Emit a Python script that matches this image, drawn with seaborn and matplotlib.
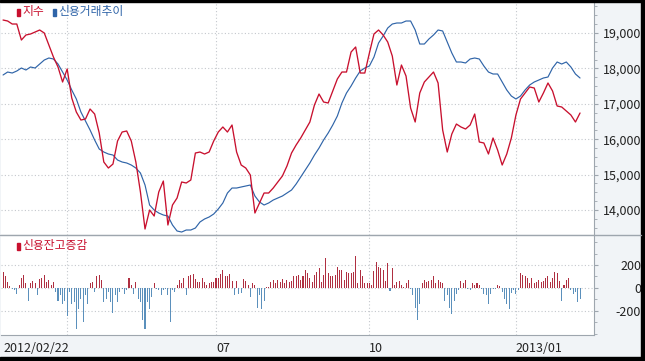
import numpy as np
import matplotlib
matplotlib.use("Agg")
import matplotlib.pyplot as plt
import seaborn as sns
from matplotlib.patches import Rectangle
from matplotlib.lines import Line2D

# 지수 (every 2nd trading day)
kospi = [19367, 19339, 19254, 19254, 18802, 18944, 18972, 19028, 19085, 19000,
         18661, 18322, 18040, 17616, 17983, 17164, 16768, 16542, 16571, 16853,
         16712, 16175, 15356, 15186, 15299, 15949, 16203, 16232, 15949, 15356,
         14508, 13463, 14000, 13830, 14508, 14819, 13576, 14141, 14339, 14791,
         14763, 14847, 15610, 15638, 15582, 15638, 15949, 16203, 16345, 16203,
         16401, 15638, 15271, 15186, 14989, 13915, 14198, 14480, 14480, 14621,
         14791, 14960, 15243, 15610, 15836, 16034, 16260, 16486, 16966, 17277,
         17051, 17023, 17362, 17701, 17898, 17898, 18463, 18605, 17870, 17870,
         18435, 18972, 19085, 18944, 18746, 18350, 17531, 18096, 17785, 16881,
         16486, 17305, 17616, 17757, 17898, 17588, 16260, 15638, 16147, 16429,
         16345, 16288, 16401, 16712, 15921, 15893, 15582, 16034, 15695, 15271,
         15582, 16034, 16684, 17136, 17305, 17475, 17446, 17051, 17305, 17588,
         17362, 16938, 16910, 16797, 16684, 16486, 16740]

# 신용거래추이 (every 2nd trading day)
credit = [17814, 17898, 17870, 17927, 18011, 17955, 18040, 18011, 18124, 18237,
          18294, 18266, 18124, 17898, 17672, 17390, 17136, 16768, 16514, 16260,
          15978, 15723, 15638, 15582, 15553, 15412, 15356, 15328, 15271, 15186,
          15045, 14706, 14141, 14000, 13915, 13859, 13830, 13576, 13407, 13378,
          13435, 13435, 13491, 13661, 13746, 13802, 13887, 14028, 14198, 14480,
          14621, 14621, 14650, 14678, 14706, 14395, 14226, 14141, 14198, 14282,
          14339, 14395, 14480, 14565, 14734, 14932, 15130, 15328, 15553, 15751,
          15978, 16175, 16401, 16655, 17023, 17305, 17503, 17729, 17927, 18011,
          18068, 18322, 18718, 18915, 19141, 19254, 19283, 19283, 19339, 19339,
          19085, 18689, 18689, 18831, 18944, 19085, 19057, 18746, 18435, 18181,
          18181, 18153, 18266, 18294, 18266, 18068, 17898, 17842, 17842, 17616,
          17390, 17220, 17136, 17220, 17390, 17531, 17616, 17672, 17729, 17757,
          18011, 18181, 18124, 18181, 18040, 17842, 17729]

# 신용잔고증감 (daily)
credit_change = [
    140, 100, 55, 20, -10, -20, -50, 30, 85, 110,
    40, -110, 45, 60, 40, -65, 75, 85, 115, 55,
    70, 25, 55, -35, -110, -65, -140, -110, -245, -35,
    -140, -125, -360, -185, -95, -300, -65, -140, 40, 55,
    -35, 100, 115, 70, -125, -100, -35, -120, -215, -65,
    -120, -35, -10, -50, -20, 85, 30, -50, 55, -95,
    -125, -275, -360, -125, -185, -80, 40, -10, -20, -65,
    -20, -10, -65, -300, -20, -35, 25, 70, 40, 85,
    -65, 100, 115, 120, 80, 55,
    55, 85, 50, 30, 40, 50, 55, 85, 85, 120,
    155, 100, 100, 120, 60, -60, 60, -50, -45, 75,
    60, 25, -80, 40, 25, -175, -65, -185, -110, 5,
    10, 55, 70, 40, 70, 55, 75, 40, 70, 50,
    60, 100, 100, 115, 70, 100, 160, 130, 85, 55,
    115, 140, 170, 55, 115, 265, 130, 100, 100, 115,
    180, 155, 155, 70, 135, 130, 130, 135, 275, 40,
    155, 100, 40, 45, 40, 25, 145, 230, 185, 170,
    155, 60, 220, -30, 170, 25, 55, 60, 30, 10,
    40, 70, -10, -65, -170, -275, -140, 40, 70, 55,
    65,
    70, 100, 40, 70, 55, 40, -110, -65, -170, -230,
    -110, -50, -20, 60, 40, 70, -5, -20, 40, 25,
    40, 25, -5, -50, -65, -140, -50, -10, -5, 30,
    20, -35, -95, -140, -185, -40, -15, -50, -20, 130,
    115, 100, 85, 40, 85, 40, 55, 70, 50, 60,
    85, 100, 55, 90, 140, 130, 60, -110, 30, 70,
    85, -20, -50, -35, -125, -95]

xtick_pos = [0, 93, 160, 224]
xtick_labels = ["2012/02/22", "07", "10", "2013/01"]
xgrid_pos = [28, 93, 160, 224]

RED = "#c8102e"
BLUE = "#2f64a8"
BAR_RED = "#c41a32"
BAR_BLUE = "#4b92cc"
GRID = "#c4c8cd"
SPINE = "#9ea6ae"

sns.set_style("white")
plt.rcParams["font.family"] = ["Noto Sans CJK KR", "DejaVu Sans"]

W, H = 645, 361
fig = plt.figure(figsize=(W / 100, H / 100), dpi=100, facecolor="#f1f4f7")
ax1 = fig.add_axes([1 / W, 1 - 235 / H, 593 / W, 233 / H])
ax2 = fig.add_axes([1 / W, 1 - 335 / H, 593 / W, 100 / H])

n_days = len(credit_change)
line_x = np.arange(0, n_days, 2)
day_x = np.arange(n_days)

sns.lineplot(x=line_x, y=credit, ax=ax1, color=BLUE, lw=0.85)
sns.lineplot(x=line_x, y=kospi, ax=ax1, color=RED, lw=0.95)

sign = np.where(np.array(credit_change) >= 0, "up", "down")
sns.barplot(x=day_x, y=credit_change, hue=sign, ax=ax2, native_scale=True,
            palette={"up": BAR_RED, "down": BAR_BLUE}, dodge=False,
            width=0.45, errorbar=None, legend=False, linewidth=0)

for ax in (ax1, ax2):
    ax.set_facecolor("white")
    ax.set_xlim(-0.9, 258.1)
    ax.set_xlabel("")
    ax.set_ylabel("")
    for s in ("top", "left"):
        ax.spines[s].set_visible(False)
    ax.spines["right"].set_color(SPINE)
    ax.spines["bottom"].set_color(SPINE)
    ax.yaxis.tick_right()
    ax.grid(axis="y", linestyle=(0, (1, 2)), color=GRID, lw=0.8)
    for gx in xgrid_pos:
        ax.axvline(gx, linestyle=(0, (1, 2)), color=GRID, lw=0.8, zorder=0)
    ax.tick_params(axis="y", which="both", direction="out", color=SPINE,
                   length=3, labelsize=9, pad=31, labelcolor="#222222")
    ax.tick_params(axis="y", which="minor", length=2)

ax1.set_ylim(13294, 19876)
ax1.set_yticks(range(14000, 19001, 1000))
ax1.set_yticklabels([f"{v:,}" for v in range(14000, 19001, 1000)])
ax1.set_yticks(np.arange(13500, 19876, 250), minor=True)
ax1.tick_params(axis="x", bottom=False, labelbottom=False)

ax2.set_ylim(-409, 461)
ax2.set_yticks([-200, 0, 200])
ax2.set_yticklabels(["-200", "0", "200"])
ax2.set_yticks(np.arange(-400, 461, 100), minor=True)
ax2.set_xticks(xtick_pos)
ax2.set_xticklabels(xtick_labels)
ax2.tick_params(axis="x", direction="out", length=6, color=SPINE,
                labelsize=9, pad=-1, labelcolor="#222222")
for lab in ax1.get_yticklabels() + ax2.get_yticklabels():
    lab.set_horizontalalignment("right")
for lab in ax2.get_xticklabels():
    lab.set_horizontalalignment("left")

# legend-like titles
def tag(x, y, text, color):
    fig.patches.append(Rectangle((x / W, 1 - (y + 4) / H), 3 / W, 7 / H,
                                 transform=fig.transFigure, color=color))
    fig.text((x + 5) / W, 1 - y / H, text, color=color, fontsize=8.5,
             va="center", ha="left")

tag(17, 12, "지수", RED)
tag(53, 12, "신용거래추이", BLUE)
tag(17, 246, "신용잔고증감", RED)

# separator line and frame
fig.lines.append(Line2D([0, 641 / W], [1 - 235 / H] * 2, transform=fig.transFigure,
                        color=SPINE, lw=1))
for (x0, y0, w, h) in [(641, 0, 4, 361), (0, 357, 645, 4), (0, 0, 645, 2)]:
    fig.patches.append(Rectangle((x0 / W, 1 - (y0 + h) / H), w / W, h / H,
                                 transform=fig.transFigure, color="black"))

fig.savefig("out.png", dpi=100, facecolor=fig.get_facecolor())
